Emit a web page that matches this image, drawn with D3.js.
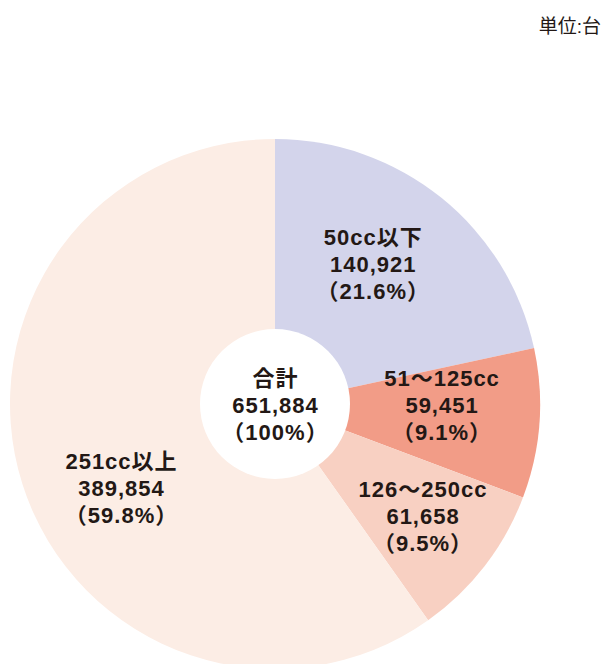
<!DOCTYPE html>
<html>
<head>
<meta charset="utf-8">
<script src="https://cdn.jsdelivr.net/npm/d3@7"></script>
<style>
  body { margin: 0; background: #fff; }
  text { font-family: "Liberation Sans", Arial, "Noto Sans CJK JP", sans-serif; fill: #231815; }
</style>
</head>
<body>
<svg id="chart" width="604" height="664"></svg>
<script>
// data
var categories = ["50cc以下", "51〜125cc", "126〜250cc", "251cc以上"];
var values = [140921, 59451, 61658, 389854];
var colors = ["#d3d4eb", "#f29c87", "#f8d0c2", "#fcede5"];
var unitLabel = "単位:台";
var totalLabel = "合計";

var svg = d3.select("#chart"),
    width = +svg.attr("width"),
    cx = 275, cy = 404,
    outerR = 265, holeR = 75, labelR = 170,
    lineH = 27;

// label nudges (dx, dy) off the centroid
var nudge = [[-9, -7], [-3, -11], [13, 9], [8, 33]];

var fmtNum = d3.format(","),
    fmtPct = d3.format(".1%");

var total = d3.sum(values);

var data = categories.map(function(c, i) {
  return {name: c, value: values[i], color: colors[i], i: i};
});

var pie = d3.pie().sort(null).value(function(d) { return d.value; });
var arc = d3.arc().innerRadius(0).outerRadius(outerR);
var labelArc = d3.arc().innerRadius(labelR).outerRadius(labelR);

var g = svg.append("g").attr("transform", "translate(" + cx + "," + cy + ")");

g.selectAll("path.slice")
  .data(pie(data))
  .enter().append("path")
    .attr("class", "slice")
    .attr("fill", function(d) { return d.data.color; })
    .attr("d", arc);

// white hole
g.append("circle").attr("r", holeR).attr("fill", "#fff");

function block(sel, lines) {
  lines.forEach(function(t, k) {
    sel.append("text")
      .attr("text-anchor", "middle")
      .attr("dominant-baseline", "central")
      .attr("x", 0.5)
      .attr("y", (k - 1) * lineH)
      .style("font-size", "22px")
      .style("font-weight", "bold")
      .style("letter-spacing", "1px")
      .text(t);
  });
}

g.selectAll("g.lbl")
  .data(pie(data))
  .enter().append("g")
    .attr("class", "lbl")
    .attr("transform", function(d) {
      var c = labelArc.centroid(d), n = nudge[d.data.i];
      return "translate(" + (c[0] + n[0]) + "," + (c[1] + n[1]) + ")";
    })
    .each(function(d) {
      block(d3.select(this), [d.data.name, fmtNum(d.data.value), "（" + fmtPct(d.data.value / total) + "）"]);
    });

block(g.append("g").attr("transform", "translate(0,1)"), [totalLabel, fmtNum(total), "（100%）"]);

svg.append("text")
  .attr("x", width - 3)
  .attr("y", 26)
  .attr("text-anchor", "end")
  .attr("dominant-baseline", "central")
  .style("font-size", "19px")
  .text(unitLabel);
</script>
</body>
</html>
